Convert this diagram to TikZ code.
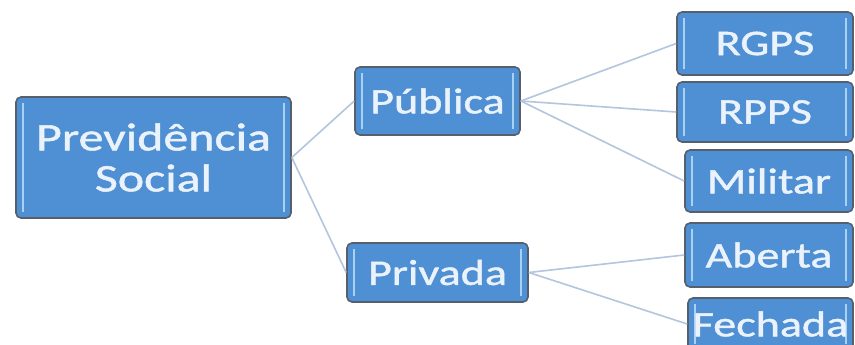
\documentclass[tikz,border=0pt]{standalone}
\usepackage{fontspec}
\newfontfamily\boxfont[FakeStretch=1.28,FakeBold=1.3]{Carlito}
\begin{document}
\begin{tikzpicture}[x=1pt,y=-1pt,
  box/.style={draw=boxborder, line width=1.6pt, fill=boxfill, rounded corners=5pt,
    inner sep=0pt, text=boxtext, align=center,
    path picture={
      \draw[innerline] ([xshift=7pt,yshift=6pt]path picture bounding box.south west) -- ([xshift=7pt,yshift=-6pt]path picture bounding box.north west);
      \draw[innerline] ([xshift=-7pt,yshift=6pt]path picture bounding box.south east) -- ([xshift=-7pt,yshift=-6pt]path picture bounding box.north east);
    }},
  innerline/.style={draw=lineblue, line width=2.6pt},
  conn/.style={draw=connblue, line width=1.6pt},
  big/.style={font=\boxfont\fontsize{39}{41}\selectfont},
  small/.style={font=\boxfont\fontsize{36}{38}\selectfont}
]
\definecolor{boxfill}{HTML}{4F8FD3}
\definecolor{boxborder}{HTML}{56606C}
\definecolor{boxtext}{HTML}{EAF2FB}
\definecolor{lineblue}{HTML}{A9D2F2}
\definecolor{connblue}{HTML}{B3C6DD}
\useasboundingbox (0,0) rectangle (855,345);
\clip (0,0) rectangle (855,345);
\fill[white] (0,0) rectangle (855,345);

\node[box, big, minimum width=275pt, minimum height=121pt] (root) at (153.5,157.5) {Previdência\\Social};
\node[box, small, minimum width=165pt, minimum height=68pt] (pub) at (437.5,101) {Pública};
\node[box, small, minimum width=181pt, minimum height=59pt] (priv) at (437.5,272.5) {Privada};
\node[box, small, minimum width=176pt, minimum height=63pt] (rgps) at (765,43.5) {RGPS};
\node[box, small, minimum width=176pt, minimum height=60pt] (rpps) at (765,112) {RPPS};
\node[box, small, minimum width=168pt, minimum height=62pt] (mil) at (769,181) {Militar};
\node[box, small, minimum width=168pt, minimum height=64pt] (ab) at (769,255) {Aberta};
\node[box, small, minimum width=165pt, minimum height=52pt] (fe) at (770.5,324) {Fechada};

\draw[conn] (root.east) -- (pub.west);
\draw[conn] (root.east) -- (priv.west);
\draw[conn] (pub.east) -- (rgps.west);
\draw[conn] (pub.east) -- (rpps.west);
\draw[conn] (pub.east) -- (mil.west);
\draw[conn] (priv.east) -- (ab.west);
\draw[conn] (priv.east) -- (fe.west);
\end{tikzpicture}
\end{document}
